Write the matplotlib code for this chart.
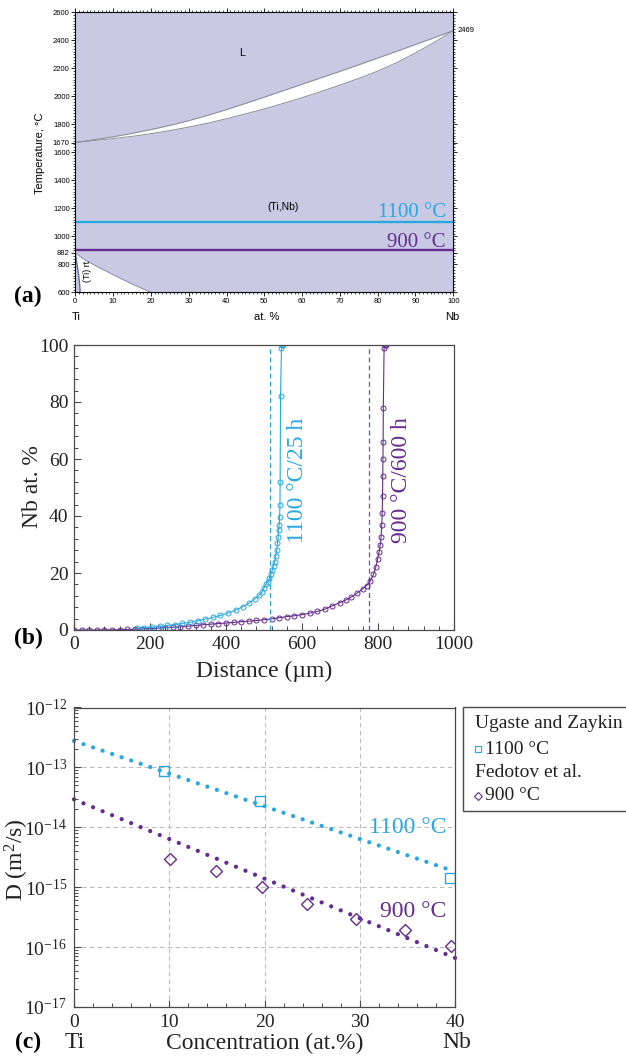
import numpy as np
import matplotlib.pyplot as plt
from matplotlib.ticker import MultipleLocator, AutoMinorLocator, LogLocator, NullFormatter
from matplotlib.lines import Line2D
from matplotlib.patches import Rectangle

plt.rcParams['font.family'] = ['Liberation Serif', 'DejaVu Serif']
plt.rcParams['mathtext.fontset'] = 'custom'
plt.rcParams['mathtext.rm'] = 'Liberation Serif'
plt.rcParams['mathtext.it'] = 'Liberation Serif:italic'
plt.rcParams['mathtext.bf'] = 'Liberation Serif:bold'

SANS = 'Liberation Sans'
BLUE = '#29a8e0'
PURPLE = '#652c90'
LAV = '#c9c9e4'
FRAME = '#4a4a4a'

# ---- (a) Ti-Nb phase diagram ----
comp = [0, 5, 10, 15, 20, 25, 30, 35, 40, 45, 50, 55, 60, 65, 70, 75, 80, 85, 90, 95, 100]
liquidus = [1670, 1690, 1711, 1735, 1762, 1792, 1826, 1864, 1905, 1949, 1994,
            2040, 2086, 2132, 2178, 2225, 2273, 2321, 2370, 2419, 2469]
solidus = [1670, 1684, 1698, 1714, 1733, 1755, 1780, 1808, 1840, 1874, 1910,
           1949, 1990, 2034, 2080, 2128, 2180, 2240, 2310, 2385, 2469]
alpha_x = [0, 0.4, 0.8, 1.1, 1.3]
alpha_T = [882, 810, 740, 670, 600]
beta_x = [0, 1, 2, 3, 4, 5, 7.5, 10, 12.5, 15, 17.5, 20]
beta_T = [882, 861, 842, 825, 810, 796, 760, 726, 692, 660, 629, 600]
a_yticks = [600, 800, 882, 1000, 1200, 1400, 1600, 1670, 1800, 2000, 2200, 2400, 2600]
T_hi, T_lo = 1100, 900

# ---- (b) concentration profiles ----
dist_1100 = [165, 185, 205, 225, 245, 265, 285, 305, 325, 345, 365, 385, 405, 425,
             445, 460, 475, 488, 495, 500, 505, 510, 514, 518, 522, 525, 528, 531,
             533.5, 535.5, 537, 538.5, 540, 541, 542, 542.5, 543.5, 546, 548, 550]
nb_1100 = [0.6, 0.8, 1.0, 1.3, 1.6, 1.9, 2.3, 2.7, 3.2, 3.8, 4.4, 5.1, 5.9, 7.0,
           8.2, 9.4, 10.8, 12.3, 13.3, 14.8, 16, 17, 18.2, 19.5, 21, 22.5, 24, 26,
           28, 30.5, 32.5, 35, 37, 39.5, 44, 52, 82, 99, 100, 100]
dist_900 = [0, 20, 40, 60, 80, 100, 120, 140, 160, 180, 200, 220, 240, 260, 280, 300,
            320, 340, 360, 380, 400, 420, 440, 460, 480, 500, 520, 540, 560, 580,
            600, 620, 640, 660, 680, 700, 715, 730, 745, 760, 770, 780, 788, 794,
            799, 803, 806, 808, 810, 811, 812, 812.5, 813, 813.5, 814, 816, 818, 820]
nb_900 = [0, 0, 0, 0, 0, 0.05, 0.1, 0.2, 0.3, 0.4, 0.5, 0.65, 0.8, 0.95, 1.1, 1.35,
          1.6, 1.85, 2.05, 2.25, 2.45, 2.65, 2.9, 3.1, 3.35, 3.6, 3.9, 4.3, 4.7, 5.0,
          5.4, 5.9, 6.5, 7.3, 8.5, 9.6, 10.5, 11.6, 12.9, 14.4, 15.6, 17.2, 19.5, 22,
          24.8, 27.5, 30, 32.5, 37, 41, 47, 54, 60, 66, 78, 99, 100, 100]
matano_1100 = 516
matano_900 = 776

# ---- (c) interdiffusion coefficients ----
fit_x = [0, 40]
fit_1100 = [2.77e-13, 1.82e-15]
fit_900 = [2.93e-14, 6.6e-17]
ugaste_x = [9.5, 19.5, 39.5]
ugaste_D = [8.8e-14, 2.7e-14, 1.4e-15]
fedotov_x = [10.1, 14.9, 19.7, 24.5, 29.6, 34.8, 39.6]
fedotov_D = [3.0e-15, 1.9e-15, 1.0e-15, 5.2e-16, 2.9e-16, 1.9e-16, 1.05e-16]

W, H = 626, 1058
fig = plt.figure(figsize=(W / 100, H / 100), dpi=100)


def axes_px(l, t, r, b):
    return fig.add_axes([l / W, 1 - b / H, (r - l) / W, (b - t) / H])


def ftext(x, y, s, **kw):
    return fig.text(x / W, 1 - y / H, s, **kw)


# ================= panel (a) =================
axa = axes_px(75.3, 12.3, 453.3, 292.3)
axa.set_facecolor(LAV)
axa.fill_between(comp, solidus, liquidus, color='white', lw=0)
axa.plot(comp, liquidus, color='#8a8a98', lw=0.7)
axa.plot(comp, solidus, color='#8a8a98', lw=0.7)
axa.fill(np.r_[alpha_x, beta_x[::-1]], np.r_[alpha_T, beta_T[::-1]], color='white', lw=0)
axa.plot(beta_x, beta_T, color='#8a8aa8', lw=0.7)
axa.plot(alpha_x, alpha_T, color='#6a6aa0', lw=1.0)
axa.axhline(T_hi, color=BLUE, lw=1.7)
axa.axhline(T_lo, color=PURPLE, lw=1.7)
axa.set_xlim(0, 100)
axa.set_ylim(600, 2600)
axa.xaxis.set_major_locator(MultipleLocator(10))
axa.xaxis.set_minor_locator(MultipleLocator(1))
axa.set_yticks(a_yticks)
axa.yaxis.set_minor_locator(MultipleLocator(20))
axa.tick_params(which='both', direction='out', top=True, right=True, labelright=False,
                labelsize=5.5, width=0.6, pad=1, colors='black')
axa.tick_params(which='major', length=3)
axa.tick_params(which='minor', length=1.5, width=0.5)
for lbl in axa.get_xticklabels() + axa.get_yticklabels():
    lbl.set_fontfamily(SANS)
for sp in axa.spines.values():
    sp.set_linewidth(0.8)
axa.text(101.2, 2469, '2469', fontsize=5.5, family=SANS, va='center', ha='left')
axa.text(44.2, 2307, 'L', fontsize=7.5, family=SANS, ha='center', va='center')
axa.text(55, 1211, '(Ti,Nb)', fontsize=7.5, family=SANS, ha='center', va='center')
axa.text(3.2, 747, '(Ti) rt', fontsize=6.5, family=SANS, ha='center', va='center', rotation=90)
axa.text(98, 1135, '1100 °C', fontsize=15, color=BLUE, ha='right', va='baseline')
axa.text(98, 925, '900 °C', fontsize=15, color=PURPLE, ha='right', va='baseline')

ftext(40, 153, 'Temperature, °C', fontsize=8, family=SANS, rotation=90, ha='center', va='center')
ftext(76, 317, 'Ti', fontsize=8, family=SANS, ha='center', va='center')
ftext(267, 317, 'at. %', fontsize=8, family=SANS, ha='center', va='center')
ftext(452, 317, 'Nb', fontsize=8, family=SANS, ha='center', va='center')
ftext(28, 296, '(a)', fontsize=17, fontweight='bold', ha='center', va='center')

# ================= panel (b) =================
axb = axes_px(74, 345, 454, 630)
axb.plot(dist_900, nb_900, '-o', color=PURPLE, mfc='none', ms=3.6, mew=0.7, lw=0.8)
axb.plot(dist_1100, nb_1100, '-o', color=BLUE, mfc='none', ms=3.6, mew=0.7, lw=0.8)
axb.axvline(matano_1100, color=BLUE, ls=(0, (4, 2.5)), lw=0.9)
axb.axvline(matano_900, color=PURPLE, ls=(0, (4, 2.5)), lw=0.9, alpha=0.85)
axb.set_xlim(0, 1000)
axb.set_ylim(0, 100)
axb.xaxis.set_major_locator(MultipleLocator(200))
axb.yaxis.set_major_locator(MultipleLocator(20))
axb.xaxis.set_minor_locator(AutoMinorLocator(5))
axb.yaxis.set_minor_locator(AutoMinorLocator(5))
axb.tick_params(which='both', direction='in', labelsize=14, colors=FRAME, labelcolor='#222222', pad=4)
axb.tick_params(which='major', length=5, width=0.8)
axb.tick_params(which='minor', length=3, width=0.7)
for sp in axb.spines.values():
    sp.set_color(FRAME)
    sp.set_linewidth(0.9)
axb.text(588, 52.5, '1100 °C/25 h', fontsize=17, color=BLUE, rotation=90, ha='center', va='center')
axb.text(862, 52.5, '900 °C/600 h', fontsize=17, color=PURPLE, rotation=90, ha='center', va='center')

ftext(32, 487, 'Nb at. %', fontsize=17, rotation=90, ha='center', va='center', color='#222222')
ftext(264, 671, 'Distance (µm)', fontsize=17, ha='center', va='center', color='#222222')
ftext(28, 638, '(b)', fontsize=17, fontweight='bold', ha='center', va='center')

# ================= panel (c) =================
axc = axes_px(74, 707.5, 455, 1007)
axc.set_yscale('log')
axc.set_xlim(0, 40)
axc.set_ylim(1e-17, 1e-12)
axc.xaxis.set_major_locator(MultipleLocator(10))
axc.xaxis.set_minor_locator(MultipleLocator(2))
axc.yaxis.set_major_locator(LogLocator(base=10, numticks=10))
axc.yaxis.set_minor_locator(LogLocator(base=10, subs=np.arange(2, 10), numticks=10))
axc.yaxis.set_minor_formatter(NullFormatter())
axc.grid(True, which='major', ls=(0, (4, 3)), color='#bdbdbd', lw=0.8)
axc.tick_params(which='both', direction='in', labelsize=14, colors=FRAME, labelcolor='#222222', pad=5)
axc.tick_params(which='major', length=5, width=0.8)
axc.tick_params(which='minor', length=3, width=0.7)
for sp in axc.spines.values():
    sp.set_color(FRAME)
    sp.set_linewidth(0.9)


def dot_line(ax, x, y, color, n, lw=3.1):
    # dotted fit line, one dot per at.% step
    p = ax.transData.transform(np.column_stack([x, y]))
    length_pt = np.hypot(*(p[-1] - p[0])) * 72 / fig.dpi
    gap = length_pt / n / lw - 0.001
    ax.plot(x, y, color=color, lw=lw, ls=(0, (0.001, gap)), dash_capstyle='round', clip_on=False)


dot_line(axc, fit_x, fit_1100, BLUE, 40)
dot_line(axc, fit_x, fit_900, PURPLE, 40)
axc.plot(ugaste_x, ugaste_D, 's', color=BLUE, mfc='none', ms=7, mew=1.0)
axc.plot(fedotov_x, fedotov_D, 'D', color=PURPLE, mfc='none', ms=6.5, mew=1.0)
axc.text(39.1, 7.9e-15, '1100 °C', fontsize=17, color=BLUE, ha='right', va='baseline')
axc.text(39.1, 3.2e-16, '900 °C', fontsize=17, color=PURPLE, ha='right', va='baseline')

ftext(17, 860, 'D (m$^2$/s)', fontsize=17, rotation=90, ha='center', va='center', color='#222222')
ftext(75, 1043, 'Ti', fontsize=17, ha='center', va='center', color='#222222')
ftext(265, 1043, 'Concentration (at.%)', fontsize=17, ha='center', va='center', color='#222222')
ftext(457, 1043, 'Nb', fontsize=17, ha='center', va='center', color='#222222')
ftext(28, 1042, '(c)', fontsize=17, fontweight='bold', ha='center', va='center')

# legend box for panel (c)
fig.add_artist(Rectangle((463.3 / W, 1 - 810.7 / H), 200 / W, 103.4 / H,
                         transform=fig.transFigure, fill=False, ec=FRAME, lw=1.0))
ftext(475, 728.5, 'Ugaste and Zaykin', fontsize=14, va='baseline', color='#222222')
ftext(485, 753.5, '1100 °C', fontsize=14, va='baseline', color='#222222')
ftext(475, 777, 'Fedotov et al.', fontsize=14, va='baseline', color='#222222')
ftext(485, 800.5, '900 °C', fontsize=14, va='baseline', color='#222222')
fig.add_artist(Line2D([478 / W], [1 - 748.5 / H], marker='s', color=BLUE, mfc='none',
                      ms=4, mew=0.8, transform=fig.transFigure))
fig.add_artist(Line2D([478 / W], [1 - 795.5 / H], marker='D', color=PURPLE, mfc='none',
                      ms=3.6, mew=0.8, transform=fig.transFigure))

fig.savefig('out.png', dpi=100)
